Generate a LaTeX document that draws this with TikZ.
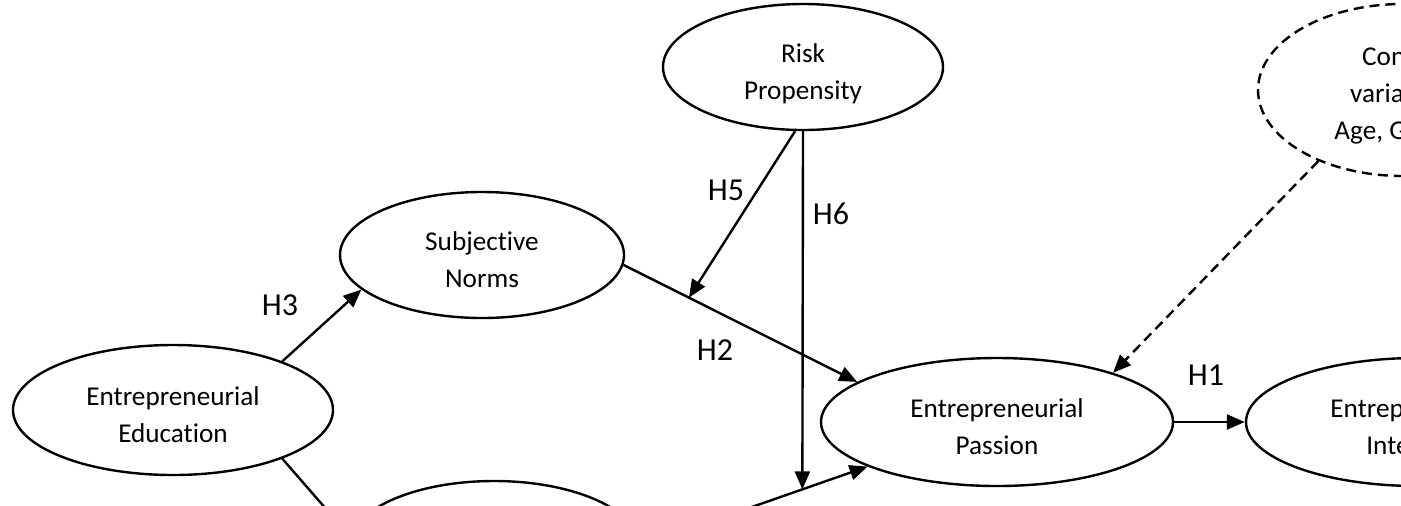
\documentclass[tikz,border=0pt]{standalone}
\usepackage{fontspec}
\setmainfont{Carlito}[Ligatures=NoCommon]
\usepackage{tikz}
\usetikzlibrary{positioning, shapes, shapes.geometric, arrows.meta, calc}

\begin{document}
\begin{tikzpicture}[
    x=0.5pt, y=-0.5pt,
    latent/.style={ellipse, draw, line width=1.2pt, inner sep=0pt, align=center, text height=32pt, text depth=0pt, font=\fontsize{13.6}{18.5}\selectfont},
    arrow/.style={-{Triangle[length=9pt, width=7.5pt]}, line width=1.2pt},
    label/.style={font=\fontsize{16}{18}\selectfont, inner sep=0pt}
]
\useasboundingbox (0,0) rectangle (1401,505);
\clip (0,0) rectangle (1401,505);

% Constructs
\node[latent, minimum width=160pt, minimum height=65pt] (edu) at (173,410) {Entrepreneurial\\Education};
\node[latent, minimum width=142pt, minimum height=63pt] (norms) at (482,255) {Subjective\\Norms};
\node[latent, minimum width=140pt, minimum height=63pt] (risk) at (803,67) {Risk\\Propensity};
\node[latent, minimum width=176pt, minimum height=64pt] (passion) at (997,422) {Entrepreneurial\\Passion};
\node[latent, minimum width=171pt, minimum height=64pt] (intention) at (1417,422) {Entrepreneurial\\Intention};
\node[latent, minimum width=145pt, minimum height=65pt] (efficacy) at (494,546) {};

% Control variables
\node[latent, dashed, dash pattern=on 5pt off 3pt, text height=49pt, minimum width=145pt, minimum height=86pt] (control) at (1403,90) {Control\\variables:\\Age, Gender};

% Connections
\draw[arrow] (edu.24) -- (norms.196);
\draw[arrow] (edu.336) -- (efficacy.176);
\draw[arrow] (norms.356) -- coordinate[pos=0.28] (hfive) (passion.164);
\draw[arrow] (efficacy.east) -- coordinate[pos=0.713] (hsix) (passion.199);
\draw[arrow] (risk.263) -- (hfive);
\draw[arrow] (risk.south) -- (hsix);
\draw[arrow] (passion.east) -- (intention.west);
\draw[arrow, dash pattern=on 5pt off 3pt] (control.220) -- (passion.23);

% Labels
\node[label] at (280,305) {H3};
\node[label] at (715,350) {H2};
\node[label] at (726,190) {H5};
\node[label] at (831,214) {H6};
\node[label] at (1206,375) {H1};

\end{tikzpicture}
\end{document}
